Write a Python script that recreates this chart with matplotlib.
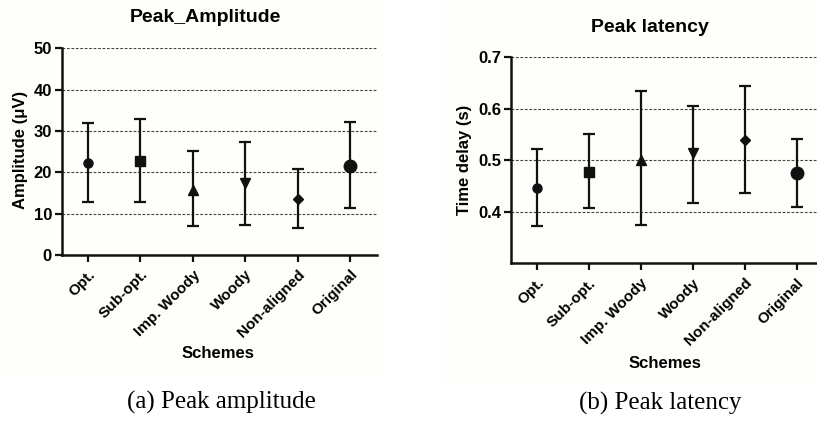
import matplotlib
matplotlib.use("Agg")
import matplotlib.pyplot as plt
from matplotlib.patches import Rectangle

schemes = ["Opt.", "Sub-opt.", "Imp. Woody", "Woody", "Non-aligned", "Original"]
markers = ["o", "s", "^", "v", "D", "o"]
marker_sizes = [6.5, 6.5, 6.5, 6.5, 5.5, 9]

amp_mean = [22.3, 22.7, 15.7, 17.5, 13.5, 21.6]
amp_upper = [31.9, 32.9, 25.2, 27.4, 20.7, 32.1]
amp_lower = [12.9, 12.9, 6.9, 7.3, 6.5, 11.3]

lat_mean = [0.447, 0.478, 0.501, 0.514, 0.540, 0.476]
lat_upper = [0.522, 0.551, 0.635, 0.605, 0.644, 0.541]
lat_lower = [0.373, 0.407, 0.375, 0.418, 0.436, 0.410]

amp_ticks = [0, 10, 20, 30, 40, 50]
lat_ticks = [0.4, 0.5, 0.6, 0.7]

W, H = 817, 421
fig = plt.figure(figsize=(W / 100, H / 100), dpi=100)
fig.patch.set_facecolor("white")

# faint panel backgrounds
fig.patches.append(Rectangle((0, 1 - 375 / H), 387 / W, 375 / H, transform=fig.transFigure,
                             facecolor="#fefefa", edgecolor="none", zorder=-10))
fig.patches.append(Rectangle((442 / W, 1 - 385 / H), (W - 442) / W, 385 / H, transform=fig.transFigure,
                             facecolor="#fefefa", edgecolor="none", zorder=-10))

SANS = ["Liberation Sans", "DejaVu Sans"]
SERIF = ["Liberation Serif", "DejaVu Serif"]


def draw(ax, mean, lower, upper, ticks, ylim, fmt):
    ax.set_facecolor("none")
    ax.set_zorder(5)
    x = list(range(len(schemes)))
    for i in x:
        ax.errorbar([i], [mean[i]],
                    yerr=[[mean[i] - lower[i]], [upper[i] - mean[i]]],
                    fmt=markers[i], color="#111111", ms=marker_sizes[i],
                    ecolor="#111111", elinewidth=1.6, capsize=4, capthick=1.6, zorder=3)
    ax.set_xlim(-0.5, len(schemes) - 0.5)
    ax.set_ylim(*ylim)
    ax.set_yticks(ticks)
    ax.set_yticklabels([fmt(t) for t in ticks], fontfamily=SANS, fontweight="bold", fontsize=12)
    ax.set_xticks(x)
    ax.set_xticklabels(schemes, rotation=45, ha="right", va="top", rotation_mode="anchor",
                       fontfamily=SANS, fontweight="bold", fontsize=11)
    for t in ticks:
        ax.axhline(t, color="#444444", lw=0.8, ls=(0, (2.5, 1.5)), zorder=1)
    for s in ["top", "right"]:
        ax.spines[s].set_visible(False)
    for s in ["left", "bottom"]:
        ax.spines[s].set_linewidth(1.8)
        ax.spines[s].set_color("#111111")
    ax.tick_params(axis="both", direction="out", length=5, width=1.6, color="#111111", pad=2)
    ax.tick_params(axis="x", pad=4)


ax1 = fig.add_axes([61.7 / W, (H - 255) / H, 315 / W, 206.7 / H])
draw(ax1, amp_mean, amp_lower, amp_upper, amp_ticks, (0, 50), lambda t: f"{t:d}")

ax2 = fig.add_axes([510.7 / W, (H - 263.3) / H, 312 / W, 206 / H])
draw(ax2, lat_mean, lat_lower, lat_upper, lat_ticks, (0.3, 0.7), lambda t: f"{t:.1f}")

# titles
fig.text(205 / W, 1 - 17 / H, "Peak_Amplitude", ha="center", va="center",
         fontfamily=SANS, fontweight="bold", fontsize=14)
fig.text(650 / W, 1 - 27 / H, "Peak latency", ha="center", va="center",
         fontfamily=SANS, fontweight="bold", fontsize=14)

# axis labels
fig.text(21 / W, 1 - 150 / H, "Amplitude (μV)", ha="center", va="center", rotation=90,
         fontfamily=SANS, fontweight="bold", fontsize=12)
fig.text(465 / W, 1 - 160 / H, "Time delay (s)", ha="center", va="center", rotation=90,
         fontfamily=SANS, fontweight="bold", fontsize=12)
fig.text(218 / W, 1 - 353 / H, "Schemes", ha="center", va="center",
         fontfamily=SANS, fontweight="bold", fontsize=12)
fig.text(665 / W, 1 - 363 / H, "Schemes", ha="center", va="center",
         fontfamily=SANS, fontweight="bold", fontsize=12)

# captions
fig.text(221 / W, 1 - 402 / H, "(a) Peak amplitude", ha="center", va="center",
         fontfamily=SERIF, fontsize=18)
fig.text(660 / W, 1 - 403 / H, "(b) Peak latency", ha="center", va="center",
         fontfamily=SERIF, fontsize=18)

fig.savefig("out.png", dpi=100)
